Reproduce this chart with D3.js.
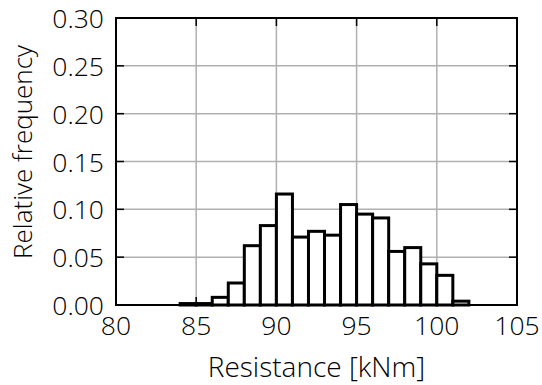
<!DOCTYPE html>
<html><head><meta charset="utf-8">
<script src="https://cdn.jsdelivr.net/npm/d3@7"></script>
<style>
body{margin:0;background:#fff;}
text{font-family:"Open Sans",sans-serif;font-weight:300;fill:#000;}
</style></head>
<body><svg id="c" width="542" height="385"></svg>
<script>
const binStarts = [84,85,86,87,88,89,90,91,92,93,94,95,96,97,98,99,100,101];
const freqs = [0.0015,0.0015,0.008,0.023,0.062,0.083,0.116,0.071,0.077,0.073,0.105,0.095,0.091,0.056,0.060,0.043,0.031,0.004];
const binWidth = 1;
const xTicks = [80,85,90,95,100,105];
const yTicks = [0,0.05,0.10,0.15,0.20,0.25,0.30];
const xLabel = "Resistance [kNm]";
const yLabel = "Relative frequency";

const svg = d3.select("#c");
const L=116,R=517,T=18,B=305;
const x = d3.scaleLinear().domain([80,105]).range([L,R]);
const y = d3.scaleLinear().domain([0,0.30]).range([B,T]);

// grid
svg.append("g").selectAll("line").data(xTicks).join("line")
  .attr("x1",d=>x(d)).attr("x2",d=>x(d)).attr("y1",T).attr("y2",B)
  .attr("stroke","#b0b0b0").attr("stroke-width",1.5);
svg.append("g").selectAll("line").data(yTicks).join("line")
  .attr("x1",L).attr("x2",R).attr("y1",d=>y(d)).attr("y2",d=>y(d))
  .attr("stroke","#b0b0b0").attr("stroke-width",1.5);

// bars
svg.append("g").selectAll("rect").data(binStarts).join("rect")
  .attr("x",(d)=>x(d)).attr("width",(d)=>x(d+binWidth)-x(d))
  .attr("y",(d,i)=>y(freqs[i])).attr("height",(d,i)=>y(0)-y(freqs[i]))
  .attr("fill","#fff").attr("stroke","#000").attr("stroke-width",3);

// ticks inward all sides
const tl=8;
const tg = svg.append("g").attr("stroke","#000").attr("stroke-width",1.5);
xTicks.forEach(d=>{
  tg.append("line").attr("x1",x(d)).attr("x2",x(d)).attr("y1",B).attr("y2",B-tl);
  tg.append("line").attr("x1",x(d)).attr("x2",x(d)).attr("y1",T).attr("y2",T+tl);
});
yTicks.forEach(d=>{
  tg.append("line").attr("x1",L).attr("x2",L+tl).attr("y1",y(d)).attr("y2",y(d));
  tg.append("line").attr("x1",R).attr("x2",R-tl).attr("y1",y(d)).attr("y2",y(d));
});

// frame
svg.append("rect").attr("x",L).attr("y",T).attr("width",R-L).attr("height",B-T)
  .attr("fill","none").attr("stroke","#000").attr("stroke-width",2);

// tick labels
svg.append("g").selectAll("text").data(xTicks).join("text")
  .attr("x",d=>x(d)).attr("y",B+30).attr("text-anchor","middle")
  .attr("font-size",26.5).text(d=>d);
svg.append("g").selectAll("text").data(yTicks).join("text")
  .attr("x",L-12).attr("y",d=>y(d)+10).attr("text-anchor","end")
  .attr("font-size",26.5).text(d=>d.toFixed(2));

svg.append("text").attr("x",(L+R)/2).attr("y",377).attr("text-anchor","middle")
  .attr("font-size",28).text(xLabel);
svg.append("text").attr("transform",`translate(32,152) rotate(-90)`).attr("text-anchor","middle")
  .attr("font-size",26).text(yLabel);
</script></body></html>
